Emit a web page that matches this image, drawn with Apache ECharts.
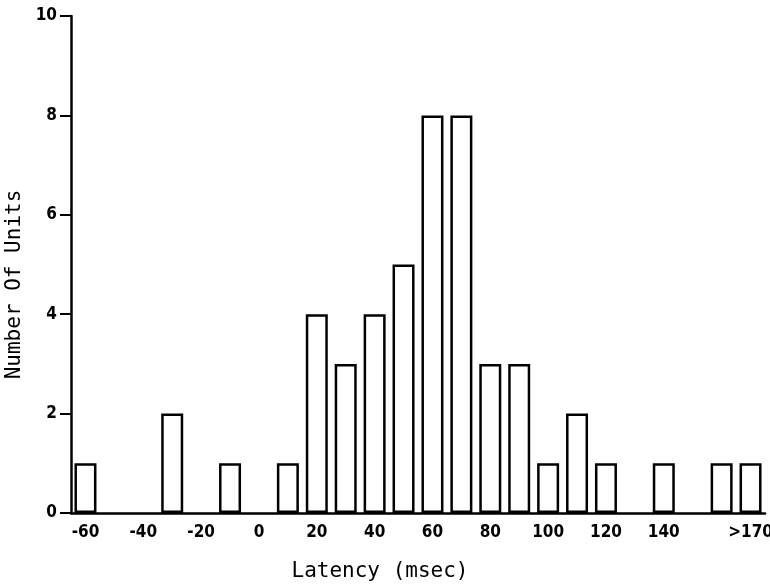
<!DOCTYPE html>
<html>
<head>
<meta charset="utf-8">
<script src="https://cdn.jsdelivr.net/npm/echarts@6/dist/echarts.min.js"></script>
<style>
  html, body { margin: 0; padding: 0; background: #fff; }
  #main { width: 770px; height: 587px; }
</style>
</head>
<body>
<div id="main"></div>
<script>
// latency bins, 10 msec wide
var categories = ['-60','-50','-40','-30','-20','-10','0','10','20','30','40','50',
                  '60','70','80','90','100','110','120','130','140','150','160','170'];
// number of units in each bin
var counts = [1,0,0,2,0,1,0,1,4,3,4,5,8,8,3,3,1,2,1,0,1,0,1,1];
// what is printed under each bin
var tickLabels = ['-60','','-40','','-20','','0','','20','','40','',
                  '60','','80','','100','','120','','140','','','>170'];
var yTicks = [0, 2, 4, 6, 8, 10];

var labelFont = {
    fontFamily: '"Liberation Sans Narrow", "DejaVu Sans Condensed", sans-serif',
    fontWeight: 'bold',
    fontSize: 17,
    color: '#000'
};
var nameFont = {
    fontFamily: '"DejaVu Sans Mono", monospace',
    fontSize: 21,
    color: '#000'
};

var barData = [];
for (var i = 0; i < counts.length; i++) {
    barData.push(counts[i] > 0 ? counts[i] : '-');
}

var option = {
    backgroundColor: '#fff',
    animation: false,
    grid: { left: 71, right: 5, top: 16, bottom: 74, outerBoundsMode: 'none', containLabel: false },
    xAxis: {
        type: 'category',
        data: categories,
        boundaryGap: true,
        name: 'Latency (msec)',
        nameLocation: 'middle',
        nameGap: 48,
        nameTextStyle: Object.assign({ padding: [0, 76, 0, 0] }, nameFont),
        axisLine: { lineStyle: { color: '#000', width: 2.5 } },
        axisTick: { show: false },
        axisLabel: Object.assign({
            interval: 0,
            margin: 11,
            formatter: function (v, idx) { return tickLabels[idx]; }
        }, labelFont),
        splitLine: { show: false }
    },
    yAxis: {
        type: 'value',
        min: yTicks[0],
        max: yTicks[yTicks.length - 1],
        interval: 2,
        name: 'Number Of Units',
        nameLocation: 'middle',
        nameGap: 34,
        nameTextStyle: Object.assign({ padding: [0, 0, 0, -40] }, nameFont),
        axisLine: { show: true, lineStyle: { color: '#000', width: 2.5 } },
        axisTick: { show: true, length: 11, lineStyle: { color: '#000', width: 2 } },
        axisLabel: Object.assign({ margin: 14 }, labelFont),
        splitLine: { show: false }
    },
    series: [{
        type: 'bar',
        data: barData,
        barWidth: 22,
        itemStyle: {
            color: '#fff',
            borderColor: '#000',
            borderWidth: 2.5
        }
    }]
};

var myChart = echarts.init(document.getElementById('main'));
myChart.setOption(option);
</script>
</body>
</html>
